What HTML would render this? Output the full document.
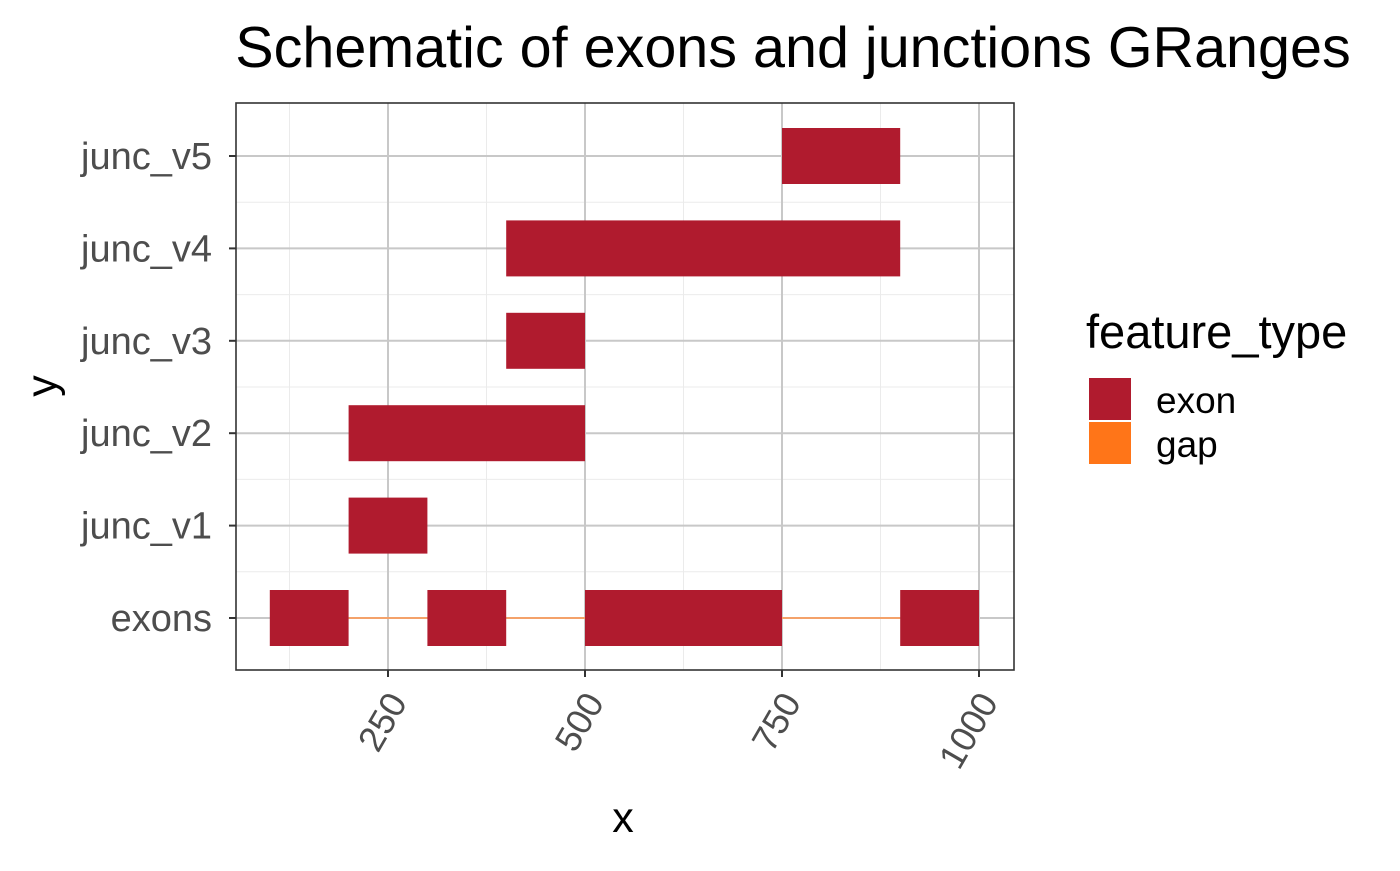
<!DOCTYPE html>
<html><head><meta charset="utf-8"><style>
body{margin:0;background:#fff;font-family:"Liberation Sans",Arial,sans-serif}
</style></head><body>
<svg id="chart" width="1400" height="866" xmlns="http://www.w3.org/2000/svg">
<text x="793" y="67" font-size="57.5" text-anchor="middle" fill="#000">Schematic of exons and junctions GRanges</text>
<g id="grid"></g>
<g id="marks"></g>
<rect x="236" y="103" width="778" height="567" fill="none" stroke="#333" stroke-width="1.6"/>
<g id="axes"></g>
<text x="623" y="832" font-size="43" text-anchor="middle">x</text>
<text transform="translate(56,386) rotate(-90)" font-size="43" text-anchor="middle">y</text>
<g>
<text x="1086" y="348" font-size="47">feature_type</text>
<rect x="1089" y="378" width="42" height="42" fill="#B01B2E"/>
<text x="1156" y="413" font-size="37">exon</text>
<rect x="1089" y="422" width="42" height="42" fill="#FF7518"/>
<text x="1156" y="457" font-size="37">gap</text>
</g>
</svg>
<script>
const categories=["exons","junc_v1","junc_v2","junc_v3","junc_v4","junc_v5"];
const exonRow=["exons","exons","exons","exons","junc_v1","junc_v2","junc_v3","junc_v4","junc_v5"];
const exonStart=[100,300,500,900,200,200,400,400,750];
const exonEnd=[200,400,750,1000,300,500,500,900,900];
const gapStart=[200,400,750];
const gapEnd=[300,500,900];
const xTicks=[250,500,750,1000];
const xMinor=[125,375,625,875];
const NS="http://www.w3.org/2000/svg";
const X=v=>191+v*0.788;
const Y=c=>618-categories.indexOf(c)*92.4;
function mk(tag,attrs,parent){const e=document.createElementNS(NS,tag);for(const k in attrs)e.setAttribute(k,attrs[k]);parent.appendChild(e);return e;}
const grid=document.getElementById('grid'),marks=document.getElementById('marks'),axes=document.getElementById('axes');
xMinor.forEach(v=>{const l=mk('line',{x1:X(v),x2:X(v),y1:103,y2:670,stroke:'#ebebeb','stroke-width':1},grid);

});
for(let i=0;i<categories.length-1;i++){const y=(618-i*92.4)-46.2;const l=mk('line',{x1:236,x2:1014,y1:y,y2:y,stroke:'#ebebeb','stroke-width':1},grid);

}
xTicks.forEach(v=>{const l=mk('line',{x1:X(v),x2:X(v),y1:103,y2:670,stroke:'#c8c8c8','stroke-width':2},grid);


const t=mk('line',{x1:X(v),x2:X(v),y1:670,y2:677,stroke:'#333','stroke-width':2},axes);


const tx=mk('text',{transform:`translate(${X(v)+20},${702}) rotate(-60)`,'font-size':36,'text-anchor':'end',fill:'#4d4d4d'},axes);
tx.textContent=v;

});
categories.forEach(c=>{const y=Y(c);const l=mk('line',{x1:236,x2:1014,y1:y,y2:y,stroke:'#c8c8c8','stroke-width':2},grid);


const t=mk('line',{x1:229,x2:236,y1:y,y2:y,stroke:'#333','stroke-width':2},axes);


const tx=mk('text',{x:212,y:y+13,'font-size':38,'text-anchor':'end',fill:'#4d4d4d'},axes);
tx.textContent=c;

});
gapStart.forEach((s,i)=>{const y=Y('exons');const l=mk('line',{x1:X(s),x2:X(gapEnd[i]),y1:y,y2:y,stroke:'#F4A26A','stroke-width':2},marks);

});
exonStart.forEach((s,i)=>{const y=Y(exonRow[i]);const r=mk('rect',{x:X(s),y:y-28,width:X(exonEnd[i])-X(s),height:56,fill:'#B01B2E'},marks);

});
</script>
</body></html>
